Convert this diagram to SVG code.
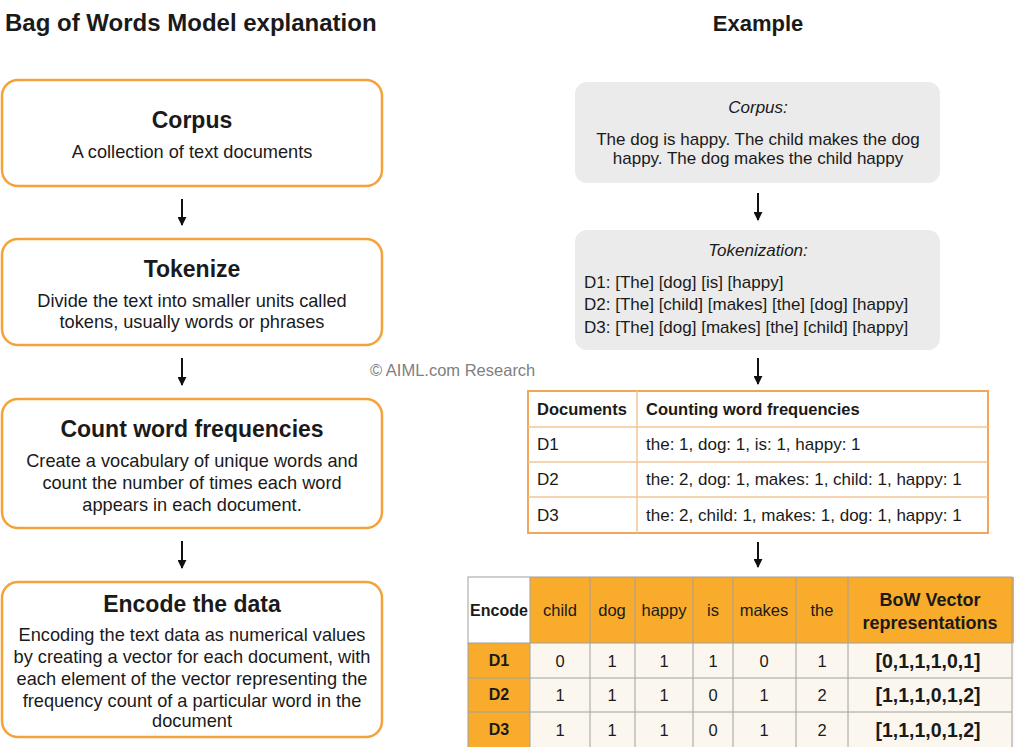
<svg xmlns="http://www.w3.org/2000/svg" width="1014" height="747" viewBox="0 0 1014 747">
  <style>
    text { font-family: "Liberation Sans", Arial, Helvetica, sans-serif; fill: #1a1a1a; }
    .h1 { font-size: 24px; font-weight: bold; }
    .step { fill: #ffffff; stroke: #F4A23A; stroke-width: 2.5; }
    .stitle { font-size: 23px; font-weight: bold; text-anchor: middle; }
    .sbody { font-size: 18.2px; text-anchor: middle; }
    .ex { fill: #EBEBEB; }
    .exh { font-size: 17px; font-style: italic; text-anchor: middle; }
    .exb { font-size: 17px; }
    .t1 { font-size: 17px; }
    .t1b { font-size: 16.5px; font-weight: bold; }
    .t2 { font-size: 16.5px; text-anchor: middle; }
    .t2b { font-size: 16px; font-weight: bold; text-anchor: middle; }
    .t2v { font-size: 18px; font-weight: bold; text-anchor: middle; }
    .t2n { font-size: 19.5px; font-weight: bold; text-anchor: middle; }
    .orange { fill: #F9AC2C; }
    .cream { fill: #FBF7EF; }
    .grid { stroke: #A0A0A0; stroke-width: 1; fill: none; }
    .arrow { stroke: #111; stroke-width: 2; marker-end: url(#head); }
  </style>
  <defs>
    <marker id="head" viewBox="0 0 10 10" refX="9" refY="5" markerWidth="4.5" markerHeight="4.5" orient="auto" markerUnits="strokeWidth">
      <path d="M0,0 L10,5 L0,10 z" fill="#111"/>
    </marker>
  </defs>

  <rect width="1014" height="747" fill="#ffffff"/>

  <!-- headings -->
  <text class="h1" x="5" y="31">Bag of Words Model explanation</text>
  <text class="h1" x="758" y="31" text-anchor="middle" style="font-size:22px">Example</text>

  <!-- left column: process steps -->
  <g id="step-corpus">
    <rect class="step" x="2" y="80" width="380" height="106" rx="16"/>
    <text class="stitle" x="192" y="128">Corpus</text>
    <text class="sbody" x="192" y="158">A collection of text documents</text>
  </g>
  <g id="step-tokenize">
    <rect class="step" x="2" y="239" width="380" height="106" rx="16"/>
    <text class="stitle" x="192" y="277">Tokenize</text>
    <text class="sbody" x="192" y="307">Divide the text into smaller units called</text>
    <text class="sbody" x="192" y="328">tokens, usually words or phrases</text>
  </g>
  <g id="step-count">
    <rect class="step" x="2" y="399" width="380" height="129" rx="16"/>
    <text class="stitle" x="192" y="437">Count word frequencies</text>
    <text class="sbody" x="192" y="467">Create a vocabulary of unique words and</text>
    <text class="sbody" x="192" y="489">count the number of times each word</text>
    <text class="sbody" x="192" y="511">appears in each document.</text>
  </g>
  <g id="step-encode">
    <rect class="step" x="2" y="582" width="380" height="155" rx="16"/>
    <text class="stitle" x="192" y="612">Encode the data</text>
    <text class="sbody" x="192" y="641">Encoding the text data as numerical values</text>
    <text class="sbody" x="192" y="663">by creating a vector for each document, with</text>
    <text class="sbody" x="192" y="685">each element of the vector representing the</text>
    <text class="sbody" x="192" y="707">frequency count of a particular word in the</text>
    <text class="sbody" x="192" y="727">document</text>
  </g>

  <text x="370" y="376" style="font-size:16.5px; fill:#808080">© AIML.com Research</text>

  <!-- right column: worked example -->
  <g id="ex-corpus">
    <rect class="ex" x="575" y="82" width="365" height="101" rx="12"/>
    <text class="exh" x="758" y="113">Corpus:</text>
    <text class="exb" x="758" y="145" text-anchor="middle">The dog is happy. The child makes the dog</text>
    <text class="exb" x="758" y="164" text-anchor="middle">happy. The dog makes the child happy</text>
  </g>
  <g id="ex-tokenization">
    <rect class="ex" x="575" y="230" width="365" height="120" rx="12"/>
    <text class="exh" x="758" y="256">Tokenization:</text>
    <text class="exb" x="584" y="288">D1: [The] [dog] [is] [happy]</text>
    <text class="exb" x="584" y="310">D2: [The] [child] [makes] [the] [dog] [happy]</text>
    <text class="exb" x="584" y="333">D3: [The] [dog] [makes] [the] [child] [happy]</text>
  </g>

  <g id="ex-counts">
    <rect x="528" y="391" width="460" height="142" fill="#ffffff" stroke="#F2A65A" stroke-width="2"/>
    <g stroke="#F5C594" stroke-width="1.5">
      <line x1="528" y1="427" x2="988" y2="427"/>
      <line x1="528" y1="462" x2="988" y2="462"/>
      <line x1="528" y1="497" x2="988" y2="497"/>
      <line x1="637" y1="391" x2="637" y2="533"/>
    </g>
    <text class="t1b" x="537" y="415">Documents</text>
    <text class="t1b" x="646" y="415">Counting word frequencies</text>
    <text class="t1" x="537" y="450">D1</text>
    <text class="t1" x="646" y="450">the: 1, dog: 1, is: 1, happy: 1</text>
    <text class="t1" x="537" y="485">D2</text>
    <text class="t1" x="646" y="485">the: 2, dog: 1, makes: 1, child: 1, happy: 1</text>
    <text class="t1" x="537" y="521">D3</text>
    <text class="t1" x="646" y="521">the: 2, child: 1, makes: 1, dog: 1, happy: 1</text>
  </g>

  <g id="ex-encode">
    <!-- header row -->
    <rect x="468" y="577" width="62" height="66" fill="#ffffff"/>
    <rect class="orange" x="530" y="577" width="484" height="66"/>
    <!-- row labels -->
    <rect class="orange" x="468" y="643" width="62" height="104"/>
    <!-- values -->
    <rect class="cream" x="530" y="643" width="484" height="104"/>
    <g class="grid">
      <rect x="468" y="577" width="544" height="172"/>
      <line x1="468" y1="643" x2="1012" y2="643"/>
      <line x1="468" y1="678" x2="1012" y2="678"/>
      <line x1="468" y1="712" x2="1012" y2="712"/>
      <line x1="530" y1="577" x2="530" y2="747"/>
      <line x1="590" y1="577" x2="590" y2="747"/>
      <line x1="635" y1="577" x2="635" y2="747"/>
      <line x1="693" y1="577" x2="693" y2="747"/>
      <line x1="733" y1="577" x2="733" y2="747"/>
      <line x1="796" y1="577" x2="796" y2="747"/>
      <line x1="848" y1="577" x2="848" y2="747"/>
    </g>
    <text class="t2b" x="499" y="616">Encode</text>
    <text class="t2" x="560" y="616">child</text>
    <text class="t2" x="612" y="616">dog</text>
    <text class="t2" x="664" y="616">happy</text>
    <text class="t2" x="713" y="616">is</text>
    <text class="t2" x="764" y="616">makes</text>
    <text class="t2" x="822" y="616">the</text>
    <text class="t2v" x="930" y="606">BoW Vector</text>
    <text class="t2v" x="930" y="629">representations</text>

    <text class="t2b" x="499" y="666">D1</text>
    <text class="t2" x="560" y="667">0</text>
    <text class="t2" x="612" y="667">1</text>
    <text class="t2" x="664" y="667">1</text>
    <text class="t2" x="713" y="667">1</text>
    <text class="t2" x="764" y="667">0</text>
    <text class="t2" x="822" y="667">1</text>
    <text class="t2n" x="928" y="668">[0,1,1,1,0,1]</text>

    <text class="t2b" x="499" y="700">D2</text>
    <text class="t2" x="560" y="701">1</text>
    <text class="t2" x="612" y="701">1</text>
    <text class="t2" x="664" y="701">1</text>
    <text class="t2" x="713" y="701">0</text>
    <text class="t2" x="764" y="701">1</text>
    <text class="t2" x="822" y="701">2</text>
    <text class="t2n" x="928" y="702">[1,1,1,0,1,2]</text>

    <text class="t2b" x="499" y="735">D3</text>
    <text class="t2" x="560" y="736">1</text>
    <text class="t2" x="612" y="736">1</text>
    <text class="t2" x="664" y="736">1</text>
    <text class="t2" x="713" y="736">0</text>
    <text class="t2" x="764" y="736">1</text>
    <text class="t2" x="822" y="736">2</text>
    <text class="t2n" x="928" y="737">[1,1,1,0,1,2]</text>
  </g>

  <!-- connectors -->
  <g id="connectors">
    <line class="arrow" x1="182" y1="199" x2="182" y2="225"/>
    <line class="arrow" x1="182" y1="358" x2="182" y2="385"/>
    <line class="arrow" x1="182" y1="541" x2="182" y2="568"/>
    <line class="arrow" x1="758" y1="193" x2="758" y2="220"/>
    <line class="arrow" x1="758" y1="358" x2="758" y2="384"/>
    <line class="arrow" x1="758" y1="542" x2="758" y2="567"/>
  </g>
</svg>
